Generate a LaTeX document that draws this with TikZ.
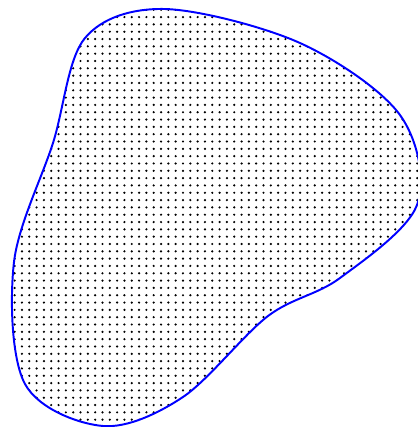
\documentclass[tikz,border=0pt]{standalone}
\usepackage{xcolor}
\usepackage{tikz}
\usetikzlibrary{patterns}

\begin{document}
\begin{tikzpicture}[x=0.0144cm, y=-0.0144cm]
        \useasboundingbox (0,0) rectangle (418,427);
        \draw[blue, thick, pattern=dots]
            plot[smooth cycle, tension=0.55] coordinates {
                (165,9) (300,43) (400,115) (417,205) (340,278)
                (268,316) (183,397) (103,426) (25,384) (14,262)
                (53,143) (85,38)
            };
    \end{tikzpicture}
\end{document}
